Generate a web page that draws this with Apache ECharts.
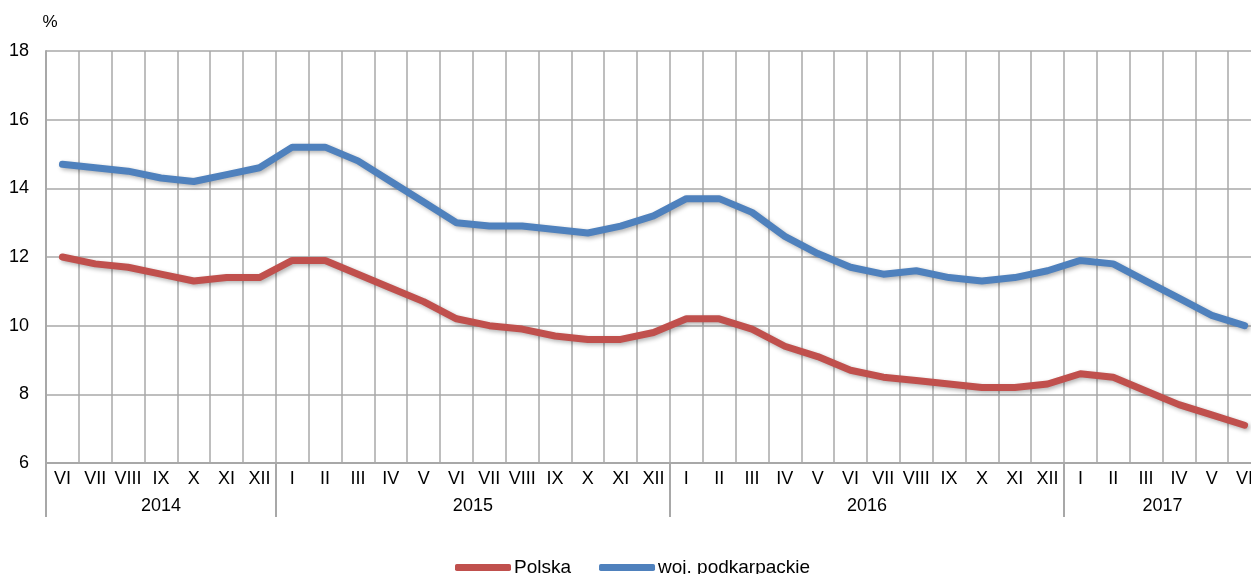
<!DOCTYPE html>
<html>
<head>
<meta charset="utf-8">
<script src="https://cdn.jsdelivr.net/npm/echarts@6/dist/echarts.min.js"></script>
<style>html,body{margin:0;padding:0;background:#fff}#c{width:1251px;height:574px}</style>
</head>
<body>
<div id="c"></div>
<script>
var months = ['VI','VII','VIII','IX','X','XI','XII',
  'I','II','III','IV','V','VI','VII','VIII','IX','X','XI','XII',
  'I','II','III','IV','V','VI','VII','VIII','IX','X','XI','XII',
  'I','II','III','IV','V','VI'];
var years = ['2014','2015','2016','2017'];
var monthsPerYear = [7, 12, 12, 6];
var polska = [12.0,11.8,11.7,11.5,11.3,11.4,11.4,
  11.9,11.9,11.5,11.1,10.7,10.2,10.0,9.9,9.7,9.6,9.6,9.8,
  10.2,10.2,9.9,9.4,9.1,8.7,8.5,8.4,8.3,8.2,8.2,8.3,
  8.6,8.5,8.1,7.7,7.4,7.1];
var podkarpackie = [14.7,14.6,14.5,14.3,14.2,14.4,14.6,
  15.2,15.2,14.8,14.2,13.6,13.0,12.9,12.9,12.8,12.7,12.9,13.2,
  13.7,13.7,13.3,12.6,12.1,11.7,11.5,11.6,11.4,11.3,11.4,11.6,
  11.9,11.8,11.3,10.8,10.3,10.0];
var yTicks = [6, 8, 10, 12, 14, 16, 18];

// half-month slots for the year axis (boundaryGap false): 2*N+1 points
var nSlots = months.length * 2 + 1;
var yearSlots = [];
for (var i = 0; i < nSlots; i++) yearSlots.push('');
var boundaries = {0: true};
var pos = 0;
years.forEach(function (y, k) {
  var mid = pos * 2 + monthsPerYear[k];
  yearSlots[mid] = y;
  pos += monthsPerYear[k];
  boundaries[pos * 2] = true;
});

var grey = '#A8A8A8';
var font = 'Liberation Sans, Arial, sans-serif';
var chart = echarts.init(document.getElementById('c'));
var shadow = {shadowColor: 'rgba(0,0,0,0.3)', shadowBlur: 4, shadowOffsetX: 2, shadowOffsetY: 2};
chart.setOption({
  animation: false,
  grid: {left: 46, top: 51, bottom: 111, right: -10, outerBoundsMode: 'none', containLabel: false},
  legend: {
    left: 450, top: 553,
    itemWidth: 56, itemHeight: 7, itemGap: 28,
    icon: 'roundRect',
    textStyle: {fontFamily: font, fontSize: 19, color: '#000', padding: [0, 0, 0, -2]},
    data: ['Polska', 'woj. podkarpackie']
  },
  xAxis: [{
    type: 'category', data: months, boundaryGap: true, position: 'bottom',
    axisLine: {lineStyle: {color: grey, width: 2}},
    axisTick: {show: false},
    axisLabel: {interval: 0, fontFamily: font, fontSize: 18, color: '#000', margin: 7},
    splitLine: {show: true, interval: 0, lineStyle: {color: grey, width: 1.5}}
  }, {
    type: 'category', data: yearSlots, boundaryGap: false, position: 'bottom',
    axisLine: {show: false},
    axisTick: {show: true, length: 54, interval: function (idx) { return !!boundaries[idx]; },
      lineStyle: {color: grey, width: 2}},
    axisLabel: {interval: function (idx, v) { return v !== ''; }, fontFamily: font, fontSize: 18, color: '#000', margin: 34},
    splitLine: {show: false}
  }],
  yAxis: {
    type: 'value', min: 6, max: 18, interval: 2,
    name: '%', nameLocation: 'end', nameGap: 20,
    nameTextStyle: {fontFamily: font, fontSize: 17, color: '#000', align: 'center', padding: [0, 0, 0, 8]},
    axisLine: {show: true, lineStyle: {color: grey, width: 2}},
    axisTick: {show: false},
    axisLabel: {fontFamily: font, fontSize: 18, color: '#000', margin: 17,
      formatter: function (v) { return yTicks.indexOf(v) >= 0 ? String(v) : ''; }},
    splitLine: {show: true, lineStyle: {color: grey, width: 1.5}}
  },
  series: [{
    name: 'Polska', type: 'line', data: polska, xAxisIndex: 0,
    symbol: 'none', smooth: false,
    itemStyle: {color: '#C0504D'},
    lineStyle: Object.assign({color: '#C0504D', width: 7, cap: 'round', join: 'round'}, shadow)
  }, {
    name: 'woj. podkarpackie', type: 'line', data: podkarpackie, xAxisIndex: 0,
    symbol: 'none', smooth: false,
    itemStyle: {color: '#4F81BD'},
    lineStyle: Object.assign({color: '#4F81BD', width: 7, cap: 'round', join: 'round'}, shadow)
  }]
});
</script>
</body>
</html>
